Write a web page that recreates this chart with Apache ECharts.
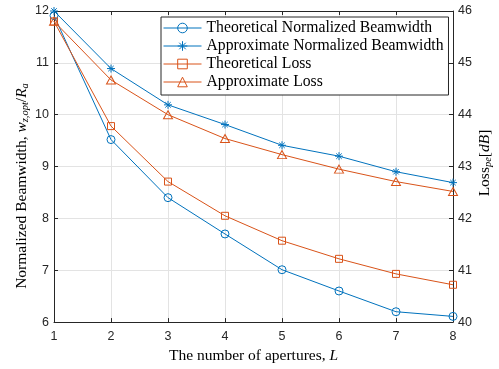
<!DOCTYPE html>
<html>
<head>
<meta charset="utf-8">
<script src="https://cdn.jsdelivr.net/npm/echarts@6/dist/echarts.min.js"></script>
<style>
  html, body { margin: 0; padding: 0; background: #fff; }
  #chart { width: 499px; height: 369px; }
</style>
</head>
<body>
<div id="chart"></div>
<script>
// number of apertures
const apertures = [1, 2, 3, 4, 5, 6, 7, 8]
// left axis: normalized beamwidth
const theoBeam = [11.91, 9.52, 8.4, 7.7, 7.01, 6.6, 6.2, 6.11]
const approxBeam = [12.0, 10.89, 10.19, 9.81, 9.41, 9.2, 8.9, 8.69]
// right axis: loss in dB
const theoLoss = [45.8, 43.78, 42.71, 42.05, 41.57, 41.22, 40.93, 40.72]
const approxLoss = [45.8, 44.67, 44.0, 43.54, 43.23, 42.95, 42.71, 42.52]

const names = [
  'Theoretical Normalized Beamwidth',
  'Approximate Normalized Beamwidth',
  'Theoretical Loss',
  'Approximate Loss',
]

const blue = '#0072BD'
const orange = '#D95319'
const axisColor = '#262626'
const gridColor = '#e3e3e3'
const serif = 'Liberation Serif'
const sans = 'Liberation Sans'

const pairs = (vals) => vals.map((v, i) => [apertures[i], v])

const asterisk = 'path://M5,0L5,10M0,5L10,5M1.6,1.6L8.4,8.4M1.6,8.4L8.4,1.6'

const richText = {
  n: { fontFamily: serif, fontSize: 15.5, lineHeight: 18, color: '#000' },
  i: { fontFamily: serif, fontSize: 15.5, lineHeight: 18, fontStyle: 'italic', color: '#000' },
  s: { fontFamily: serif, fontSize: 10.5, lineHeight: 11, fontStyle: 'italic', verticalAlign: 'bottom', color: '#000' },
}

function makeSeries(name, vals, color, symbol, size, axis) {
  return {
    name: name,
    type: 'line',
    yAxisIndex: axis,
    data: pairs(vals),
    symbol: symbol,
    symbolSize: size,
    showAllSymbol: true,
    lineStyle: { color: color, width: 1 },
    itemStyle: { color: 'none', borderColor: color, borderWidth: 1 },
    emphasis: { disabled: true },
    z: 3,
  }
}

let mycharts = echarts.init(document.getElementById('chart'))
mycharts.setOption({
  animation: false,
  backgroundColor: '#fff',
  grid: { left: 54, right: 46, top: 11, bottom: 42 },
  legend: {
    orient: 'vertical',
    left: 161,
    top: 17,
    padding: [2, 5, 4, 2],
    itemGap: 0,
    itemWidth: 38,
    itemHeight: 12,
    borderColor: axisColor,
    borderWidth: 1,
    backgroundColor: '#fff',
    lineStyle: { width: 1 },
    itemStyle: { borderWidth: 1 },
    textStyle: { fontFamily: serif, fontSize: 15.7, lineHeight: 18, color: '#000' },
    data: names,
    z: 10,
  },
  xAxis: [
    {
      type: 'value',
      min: 1,
      max: 8,
      interval: 1,
      name: '{n|The number of apertures, }{i|L}',
      nameLocation: 'middle',
      nameGap: 22,
      nameTextStyle: { rich: richText },
      axisLine: { show: true, lineStyle: { color: axisColor } },
      axisTick: { inside: true, length: 4, lineStyle: { color: axisColor } },
      axisLabel: { fontFamily: sans, fontSize: 12.5, color: axisColor, margin: 8 },
      splitLine: { show: true, lineStyle: { color: gridColor } },
    },
    {
      type: 'value',
      position: 'top',
      min: 1,
      max: 8,
      interval: 1,
      axisLine: { show: true, lineStyle: { color: axisColor } },
      axisTick: { inside: true, length: 4, lineStyle: { color: axisColor } },
      axisLabel: { show: false },
      splitLine: { show: false },
    },
  ],
  yAxis: [
    {
      type: 'value',
      min: 6,
      max: 12,
      interval: 1,
      axisLine: { show: true, lineStyle: { color: axisColor } },
      axisTick: { show: true, inside: true, length: 4, lineStyle: { color: axisColor } },
      axisLabel: { fontFamily: sans, fontSize: 12.5, color: axisColor, margin: 5 },
      splitLine: { show: true, lineStyle: { color: gridColor } },
    },
    {
      type: 'value',
      position: 'right',
      min: 40,
      max: 46,
      interval: 1,
      axisLine: { show: true, lineStyle: { color: axisColor } },
      axisTick: { show: true, inside: true, length: 4, lineStyle: { color: axisColor } },
      axisLabel: { fontFamily: sans, fontSize: 12.5, color: axisColor, margin: 5 },
      splitLine: { show: false },
    },
  ],
  graphic: [
    {
      type: 'text',
      x: 22,
      y: 186,
      rotation: Math.PI / 2,
      style: {
        text: '{n|Normalized Beamwidth, }{i|w}{s|z,opt}{n|/}{i|R}{s|a}',
        rich: richText,
        align: 'center',
        verticalAlign: 'middle',
      },
    },
    {
      type: 'text',
      x: 485,
      y: 163,
      rotation: Math.PI / 2,
      style: {
        text: '{n|Loss}{s|pe}{n|[}{i|dB}{n|]}',
        rich: richText,
        align: 'center',
        verticalAlign: 'middle',
      },
    },
  ],
  series: [
    makeSeries(names[0], theoBeam, blue, 'circle', 8, 0),
    makeSeries(names[1], approxBeam, blue, asterisk, 8, 0),
    makeSeries(names[2], theoLoss, orange, 'rect', 7, 1),
    makeSeries(names[3], approxLoss, orange, 'triangle', [9, 8], 1),
  ],
})
</script>
</body>
</html>
